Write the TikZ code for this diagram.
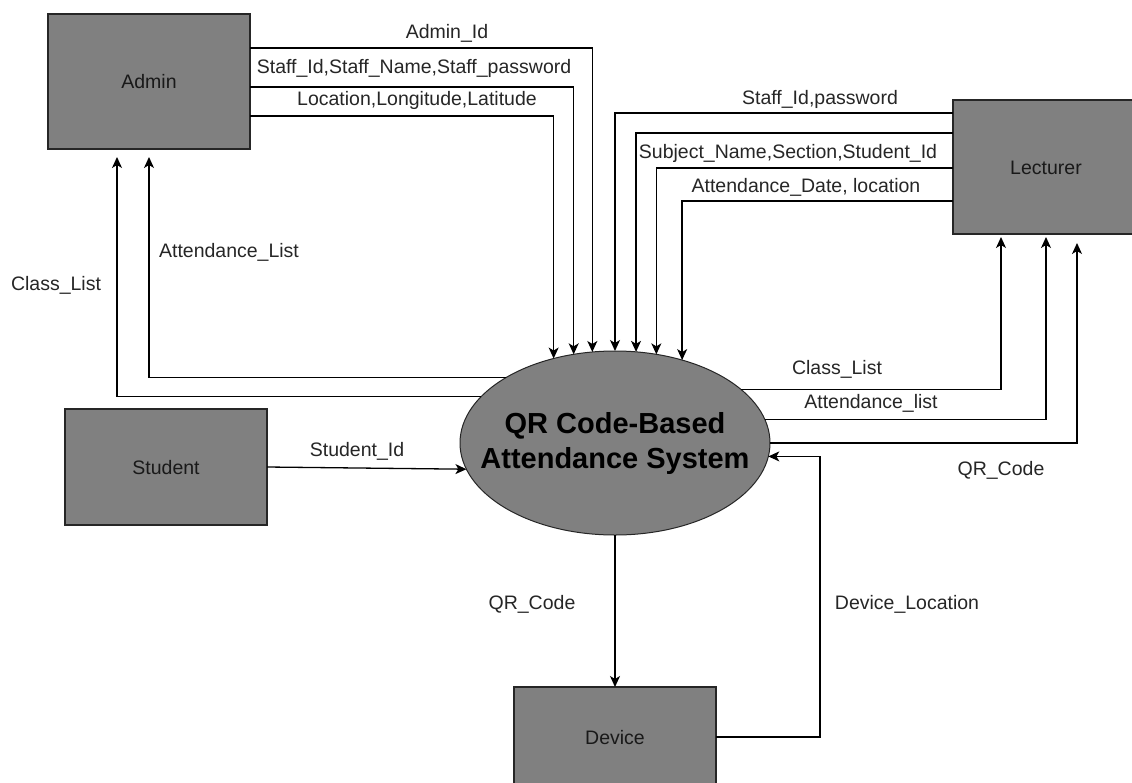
\documentclass[tikz,border=0pt]{standalone}
\usepackage{fontspec}
\setmainfont{Liberation Sans}
\usetikzlibrary{arrows.meta,calc,shapes.geometric}

\tikzset{
  entity/.style={draw=black!85, fill=black!50, line width=1.3pt, minimum width=202pt,
    inner sep=0pt, outer sep=0pt, text=black!90, text height=14pt, text depth=0pt,
    font=\fontsize{19.5}{23}\selectfont},
  process/.style={ellipse, draw=black!85, fill=black!50, line width=1pt,
    minimum width=310pt, minimum height=184pt, inner xsep=-30pt, inner ysep=0pt,
    outer sep=0pt, align=center, text=black, font=\bfseries\fontsize{29}{35}\selectfont},
  flow/.style={draw=black, line width=1.3pt,
    -{Stealth[length=11pt,width=10pt,inset=3pt]}},
  lbl/.style={text=black!85, inner sep=0pt, text height=14pt, text depth=0pt,
    font=\fontsize{19.5}{23}\selectfont},
}

\begin{document}
\begin{tikzpicture}[x=1pt, y=-1pt]
  % canvas
  \useasboundingbox (0,0) rectangle (1132,782);
  \fill[white] (0,0) rectangle (1132,782);
  \clip (0,0) rectangle (1132,782);

  % external entities and the central process
  \node[entity, minimum height=135pt] (admin) at (149,81.5) {Admin};
  \node[entity, minimum width=186pt, minimum height=134pt] (lect) at (1046,167) {Lecturer};
  \node[entity, minimum height=116pt] (student) at (166,467) {Student};
  \node[entity, minimum height=100pt] (device) at (615,737) {Device};
  \node[process] (sys) at (615,443) {QR Code-Based\\Attendance System};

  % Admin -> system
  \draw[flow] (admin.east |- 0,48)  -| (sys.104.79);
  \draw[flow] (admin.east |- 0,87)  -| (sys.115.94);
  \draw[flow] (admin.east |- 0,116) -| (sys.126.33);

  % Lecturer -> system
  \draw[flow] (lect.west |- 0,113) -| (sys.90);
  \draw[flow] (lect.west |- 0,133) -| (sys.77.63);
  \draw[flow] (lect.west |- 0,168) -| (sys.65.77);
  \draw[flow] (lect.west |- 0,201) -| (sys.51.08);

  % system -> Admin
  \draw[flow] (sys.149.35) -| ($(admin.south)+(0,8)$);
  \draw[flow] (sys.161.08) -| ($(admin.south)+(-32,8)$);

  % system -> Lecturer
  \draw[flow] (sys.23.87) -| ($(lect.south)+(-45,3)$);
  \draw[flow] (sys.9.51)  -| ($(lect.south)+(0,3)$);
  \draw[flow] (sys.0)     -| ($(lect.south)+(31,9)$);

  % Student and Device
  \draw[flow] (student.east) -- (sys.-170.89);
  \draw[flow] (sys.south) -- (device.north);
  \draw[flow] (device.east) -- ++(104,0) |- (sys.-5.99);

  % data flow labels
  \node[lbl] (lAdminId)  at (447,31)  {Admin\_Id};
  \node[lbl] (lStaff)    at (414,66)  {Staff\_Id,Staff\_Name,Staff\_password};
  \node[lbl] (lLoc)      at (417,98)  {Location,Longitude,Latitude};
  \node[lbl] (lAttA)     at (229,250) {Attendance\_List};
  \node[lbl] (lClassA)   at (56,283)  {Class\_List};
  \node[lbl] (lStudent)  at (357,449) {Student\_Id};
  \node[lbl] (lQRdev)    at (532,602) {QR\_Code};
  \node[lbl] (lDevLoc)   at (907,602) {Device\_Location};
  \node[lbl] (lPass)     at (820,97)  {Staff\_Id,password};
  \node[lbl] (lSubj)     at (788,151) {Subject\_Name,Section,Student\_Id};
  \node[lbl] (lDate)     at (806,185) {Attendance\_Date, location};
  \node[lbl] (lClassL)   at (837,367) {Class\_List};
  \node[lbl] (lAttL)     at (871,401) {Attendance\_list};
  \node[lbl] (lQRlect)   at (1001,468) {QR\_Code};
\end{tikzpicture}
\end{document}
